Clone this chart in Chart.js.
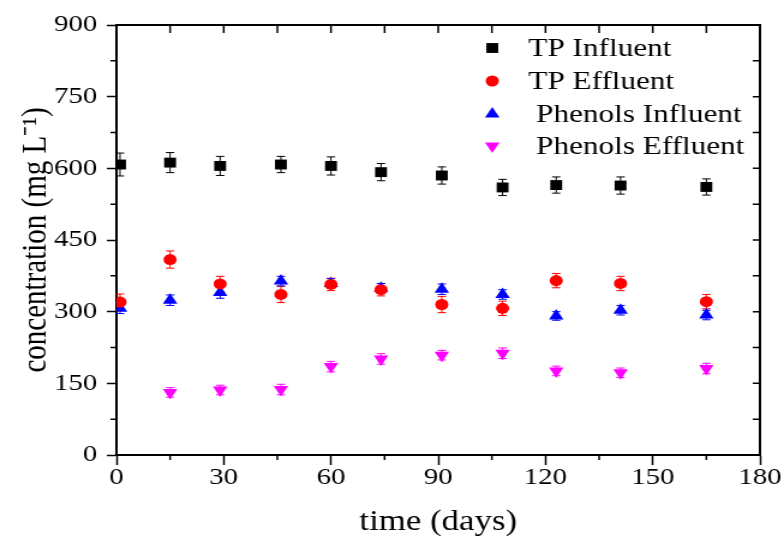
<!DOCTYPE html>
<html>
<head>
<meta charset="utf-8">
<script src="https://cdn.jsdelivr.net/npm/chart.js@4"></script>
<style>
  html, body { margin: 0; padding: 0; background: #fff; }
  #chart-area { display: block; width: 784px; height: 538px; }
</style>
</head>
<body>
<!-- the original figure is stretched sideways, so the canvas is drawn narrow and widened by css -->
<canvas id="chart-area" width="653" height="538" style="width:784px;height:538px"></canvas>
<script>
const days = [1, 15, 29, 46, 60, 74, 91, 108, 123, 141, 165];

const tpInfluent = [608, 612, 605, 608, 605, 592, 585, 560, 565, 564, 561];
const tpInfluentErr = [24, 21, 20, 17, 19, 18, 18, 17, 17, 18, 17];

const tpEffluent = [320, 409, 358, 336, 357, 346, 315, 307, 365, 359, 321];
const tpEffluentErr = [17, 18, 16, 17, 13, 13, 17, 15, 15, 15, 15];

const phenolsInfluent = [307, 324, 340, 364, 359, 349, 347, 336, 291, 303, 293];
const phenolsInfluentErr = [11, 11, 12, 10, 10, 10, 11, 10, 9, 10, 10];

const phenolsEffluent = [null, 131, 136, 137, 185, 201, 209, 213, 176, 172, 181];
const phenolsEffluentErr = [0, 10, 10, 11, 11, 11, 10, 11, 10, 10, 11];

const seriesLabels = ['TP Influent', 'TP Effluent', ' Phenols Influent', ' Phenols Effluent'];
const xTicks = [0, 30, 60, 90, 120, 150, 180];
const yTicks = [0, 150, 300, 450, 600, 750, 900];

const serif = '"Liberation Serif", "Times New Roman", serif';

function points(vals) {
    return days.map((d, i) => ({x: d, y: vals[i]}));
}

const errs = [tpInfluentErr, tpEffluentErr, phenolsInfluentErr, phenolsEffluentErr];

const errorBars = {
    id: 'errorBars',
    beforeDatasetsDraw(chart) {
        const ctx = chart.ctx;
        const ys = chart.scales.y;
        chart.data.datasets.forEach((ds, di) => {
            const meta = chart.getDatasetMeta(di);
            ctx.save();
            ctx.strokeStyle = ds.backgroundColor;
            ctx.lineWidth = 1;
            meta.data.forEach((pt, i) => {
                const v = ds.data[i].y;
                const e = errs[di][i];
                if (v == null || !e) return;
                const top = ys.getPixelForValue(v + e);
                const bot = ys.getPixelForValue(v - e);
                ctx.beginPath();
                ctx.moveTo(pt.x, top); ctx.lineTo(pt.x, bot);
                ctx.moveTo(pt.x - 3.5, top); ctx.lineTo(pt.x + 3.5, top);
                ctx.moveTo(pt.x - 3.5, bot); ctx.lineTo(pt.x + 3.5, bot);
                ctx.stroke();
            });
            ctx.restore();
        });
    }
};

// frame, minor ticks and the mirrored ticks on top/right
const frame = {
    id: 'frame',
    afterDraw(chart) {
        const ctx = chart.ctx;
        const a = chart.chartArea;
        const xs = chart.scales.x, ys = chart.scales.y;
        ctx.save();
        ctx.strokeStyle = '#000';
        ctx.lineWidth = 1.5;
        ctx.beginPath();
        for (let d = 15; d < 180; d += 30) {
            const px = xs.getPixelForValue(d);
            ctx.moveTo(px, a.bottom); ctx.lineTo(px, a.bottom + 5);
        }
        for (let v = 75; v < 900; v += 150) {
            const py = ys.getPixelForValue(v);
            ctx.moveTo(a.left, py); ctx.lineTo(a.left - 5, py);
        }
        for (let d = 15; d < 180; d += 15) {
            const px = xs.getPixelForValue(d);
            ctx.moveTo(px, a.top); ctx.lineTo(px, a.top + 8);
        }
        for (let v = 75; v < 900; v += 75) {
            const py = ys.getPixelForValue(v);
            ctx.moveTo(a.right, py); ctx.lineTo(a.right - 6, py);
        }
        ctx.stroke();
        ctx.lineWidth = 2;
        ctx.beginPath();
        ctx.moveTo(a.left, a.top); ctx.lineTo(a.right, a.top); ctx.lineTo(a.right, a.bottom);
        ctx.stroke();
        ctx.restore();
    }
};

const legendBox = {
    id: 'legendBox',
    afterDraw(chart) {
        const ctx = chart.ctx;
        const rows = [48, 81, 114, 146];
        ctx.save();
        ctx.font = '26px ' + serif;
        ctx.textBaseline = 'middle';
        ctx.fillStyle = '#000';
        chart.data.datasets.forEach((ds, i) => {
            ctx.fillStyle = ds.backgroundColor;
            Chart.helpers.drawPoint(ctx, {
                pointStyle: ds.pointStyle,
                radius: ds.pointRadius,
                rotation: ds.pointRotation || 0,
                borderWidth: 0
            }, 410, rows[i]);
            ctx.fillStyle = '#000';
            ctx.fillText(ds.label, 440, rows[i] + 1);
        });
        ctx.restore();
    }
};

const ctx = document.getElementById('chart-area').getContext('2d');
new Chart(ctx, {
    type: 'scatter',
    data: {
        datasets: [
            {label: seriesLabels[0], data: points(tpInfluent), pointStyle: 'rect', pointRadius: 7,
             backgroundColor: '#000000', borderColor: '#000000', borderWidth: 0},
            {label: seriesLabels[1], data: points(tpEffluent), pointStyle: 'circle', pointRadius: 5.5,
             backgroundColor: '#ff0000', borderColor: '#ff0000', borderWidth: 0},
            {label: seriesLabels[2], data: points(phenolsInfluent), pointStyle: 'triangle', pointRadius: 7,
             backgroundColor: '#0000ff', borderColor: '#0000ff', borderWidth: 0},
            {label: seriesLabels[3], data: points(phenolsEffluent), pointStyle: 'triangle', pointRadius: 7,
             pointRotation: 180, backgroundColor: '#ff00ff', borderColor: '#ff00ff', borderWidth: 0}
        ]
    },
    options: {
        responsive: false,
        animation: false,
        layout: {padding: {top: 25, right: 20, left: 0, bottom: 0}},
        plugins: {
            legend: {display: false},
            tooltip: {enabled: false}
        },
        scales: {
            x: {
                type: 'linear',
                min: 0, max: 180,
                afterBuildTicks: (s) => { s.ticks = xTicks.map(v => ({value: v})); },
                afterFit: (s) => { s.height = 83; s.paddingLeft = 0; s.paddingRight = 0; },
                ticks: {
                    color: '#000',
                    padding: 1,
                    maxRotation: 0,
                    font: {family: serif, size: 24, lineHeight: 1}
                },
                grid: {drawOnChartArea: false, tickLength: 10, tickColor: '#000', tickWidth: 1.5},
                border: {color: '#000', width: 2},
                title: {
                    display: true, text: 'time (days)', color: '#000',
                    font: {family: serif, size: 29, lineHeight: 1},
                    padding: {top: 0, bottom: 1}
                }
            },
            y: {
                min: 0, max: 900,
                afterBuildTicks: (s) => { s.ticks = yTicks.map(v => ({value: v})); },
                afterFit: (s) => { s.width = 97; s.paddingTop = 0; s.paddingBottom = 0; },
                ticks: {
                    color: '#000',
                    padding: 8,
                    font: {family: serif, size: 24, lineHeight: 1}
                },
                grid: {drawOnChartArea: false, tickLength: 8, tickColor: '#000', tickWidth: 1.5},
                border: {color: '#000', width: 2},
                title: {
                    display: true, text: 'concentration (mg L\u207B\u00B9)', color: '#000',
                    font: {family: serif, size: 29, lineHeight: 1},
                    padding: {top: 16, bottom: 0}
                }
            }
        }
    },
    plugins: [errorBars, frame, legendBox]
});
</script>
</body>
</html>
